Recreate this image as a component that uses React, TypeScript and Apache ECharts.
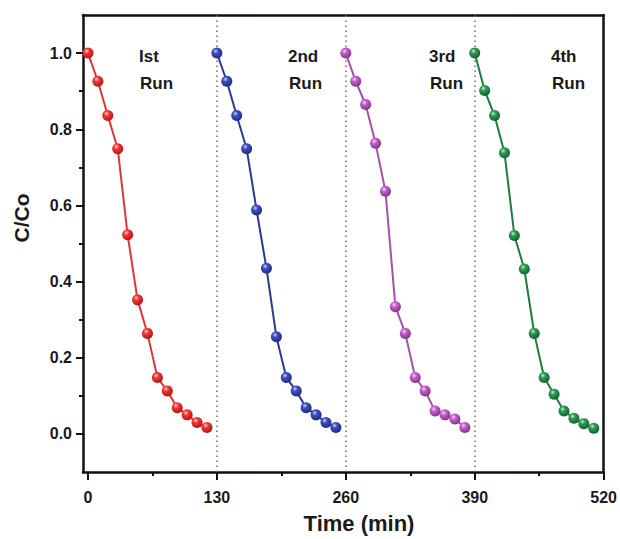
import React, { useEffect, useRef } from "react";
import * as echarts from "echarts";

const run1X = [0, 10, 20, 30, 40, 50, 60, 70, 80, 90, 100, 110, 120];
const run1Y = [1.0, 0.926, 0.836, 0.749, 0.523, 0.352, 0.264, 0.148, 0.113, 0.069, 0.05, 0.03, 0.017];
const run2X = [130, 140, 150, 160, 170, 180, 190, 200, 210, 220, 230, 240, 250];
const run2Y = [1.0, 0.926, 0.836, 0.749, 0.588, 0.435, 0.255, 0.148, 0.113, 0.069, 0.05, 0.03, 0.017];
const run3X = [260, 270, 280, 290, 300, 310, 320, 330, 340, 350, 360, 370, 380];
const run3Y = [1.0, 0.926, 0.865, 0.763, 0.637, 0.334, 0.264, 0.148, 0.113, 0.06, 0.05, 0.039, 0.017];
const run4X = [390, 400, 410, 420, 430, 440, 450, 460, 470, 480, 490, 500, 510];
const run4Y = [1.0, 0.902, 0.836, 0.738, 0.521, 0.433, 0.264, 0.148, 0.104, 0.06, 0.041, 0.027, 0.015];

const xTicks = [0, 130, 260, 390, 520];
const xMinorTicks = [65, 195, 325, 455];
const yTicks = [0, 0.2, 0.4, 0.6, 0.8, 1.0];
const yMinorTicks = [0.1, 0.3, 0.5, 0.7, 0.9];
const runBreaks = [130, 260, 390];
const runLabels = ["Ist", "2nd", "3rd", "4th"];

const FONT = '"Liberation Sans", Arial, sans-serif';
const AXIS_COLOR = "#111";

function sphere(light: string, mid: string, dark: string) {
  return {
    type: "radial",
    x: 0.38,
    y: 0.32,
    r: 0.75,
    colorStops: [
      { offset: 0, color: light },
      { offset: 0.3, color: mid },
      { offset: 1, color: dark },
    ],
  };
}

const runs = [
  { x: run1X, y: run1Y, line: "#e03535", fill: sphere("#ffd6d6", "#f03a3a", "#b00e0e") },
  { x: run2X, y: run2Y, line: "#2c3a8c", fill: sphere("#cdd5ff", "#3c50c2", "#1c2775") },
  { x: run3X, y: run3Y, line: "#a550ab", fill: sphere("#f7d6f7", "#c462cb", "#7a2c80") },
  { x: run4X, y: run4Y, line: "#1e7a3e", fill: sphere("#c6f2d0", "#2f9c52", "#0e5a26") },
];

export default function App() {
  const ref = useRef<HTMLDivElement>(null);
  useEffect(() => {
    if (!ref.current) return;
    const chart = echarts.init(ref.current, undefined, { renderer: "svg" });
    const lineStyle = { color: AXIS_COLOR, width: 2.5 };
    const series: any[] = runs.map((r, i) => ({
      type: "line",
      xAxisIndex: 0,
      yAxisIndex: 0,
      data: r.x.map((x, j) => [x, r.y[j]]),
      symbol: "circle",
      symbolSize: 11,
      lineStyle: { color: r.line, width: 2 },
      itemStyle: { color: r.fill, borderWidth: 0 },
      z: 3,
      markLine:
        i === 0
          ? {
              silent: true,
              symbol: "none",
              label: { show: false },
              lineStyle: { color: "#777", type: [1.6, 3.4], width: 1.6 },
              data: runBreaks.map((b) => ({ xAxis: b })),
              z: 1,
            }
          : undefined,
    }));

    const graphics: any[] = [];
    const labelX = [139, 288, 429, 551];
    runLabels.forEach((t, i) => {
      graphics.push({
        type: "text",
        x: labelX[i],
        y: 56,
        style: { text: t, font: `bold 17px ${FONT}`, fill: "#1a1a1a", align: "left", verticalAlign: "middle" },
      });
      graphics.push({
        type: "text",
        x: labelX[i] + 1,
        y: 83,
        style: { text: "Run", font: `bold 17px ${FONT}`, fill: "#1a1a1a", align: "left", verticalAlign: "middle" },
      });
    });
    graphics.push({
      type: "text",
      x: 359,
      y: 523,
      style: { text: "Time (min)", font: `bold 22px ${FONT}`, fill: "#1a1a1a", align: "center", verticalAlign: "middle" },
    });
    graphics.push({
      type: "text",
      x: 21,
      y: 218,
      rotation: Math.PI / 2,
      style: { text: "C/Co", font: `bold 21px ${FONT}`, fill: "#1a1a1a", align: "center", verticalAlign: "middle" },
    });

    chart.setOption({
      animation: false,
      backgroundColor: "#ffffff",
      grid: { left: 83, right: 13, top: 15, bottom: 67, containLabel: false },
      xAxis: [
        {
          type: "value",
          min: -5,
          max: 520,
          position: "bottom",
          axisLine: { show: true, onZero: false, lineStyle },
          axisTick: { show: true, inside: false, length: 8, customValues: xTicks, lineStyle: { color: AXIS_COLOR, width: 2 } },
          axisLabel: {
            customValues: xTicks,
            fontSize: 16,
            fontWeight: "bold",
            fontFamily: FONT,
            color: "#1a1a1a",
            margin: 17,
          },
          splitLine: { show: false },
        },
        {
          type: "value",
          min: -5,
          max: 520,
          position: "bottom",
          axisLine: { show: false, onZero: false },
          axisTick: { show: true, inside: false, length: 4, customValues: xMinorTicks, lineStyle: { color: AXIS_COLOR, width: 2 } },
          axisLabel: { show: false },
          splitLine: { show: false },
        },
        {
          type: "value",
          min: -5,
          max: 520,
          position: "top",
          axisLine: { show: true, onZero: false, lineStyle },
          axisTick: { show: false },
          axisLabel: { show: false },
          splitLine: { show: false },
        },
      ],
      yAxis: [
        {
          type: "value",
          min: -0.1,
          max: 1.1,
          position: "left",
          axisLine: { show: true, onZero: false, lineStyle },
          axisTick: { show: true, inside: false, length: 7, customValues: yTicks, lineStyle: { color: AXIS_COLOR, width: 2 } },
          axisLabel: {
            customValues: yTicks,
            formatter: (v: number) => v.toFixed(1),
            fontSize: 16,
            fontWeight: "bold",
            fontFamily: FONT,
            color: "#1a1a1a",
            margin: 11,
          },
          splitLine: { show: false },
        },
        {
          type: "value",
          min: -0.1,
          max: 1.1,
          position: "left",
          axisLine: { show: false, onZero: false },
          axisTick: { show: true, inside: false, length: 4, customValues: yMinorTicks, lineStyle: { color: AXIS_COLOR, width: 2 } },
          axisLabel: { show: false },
          splitLine: { show: false },
        },
        {
          type: "value",
          min: -0.1,
          max: 1.1,
          position: "right",
          axisLine: { show: true, onZero: false, lineStyle },
          axisTick: { show: false },
          axisLabel: { show: false },
          splitLine: { show: false },
        },
      ],
      series,
      graphic: graphics,
    });
    return () => chart.dispose();
  }, []);
  return (
    <div
      ref={ref}
      style={{ position: "fixed", left: 0, top: 0, width: 620, height: 539, background: "#fff" }}
    />
  );
}
